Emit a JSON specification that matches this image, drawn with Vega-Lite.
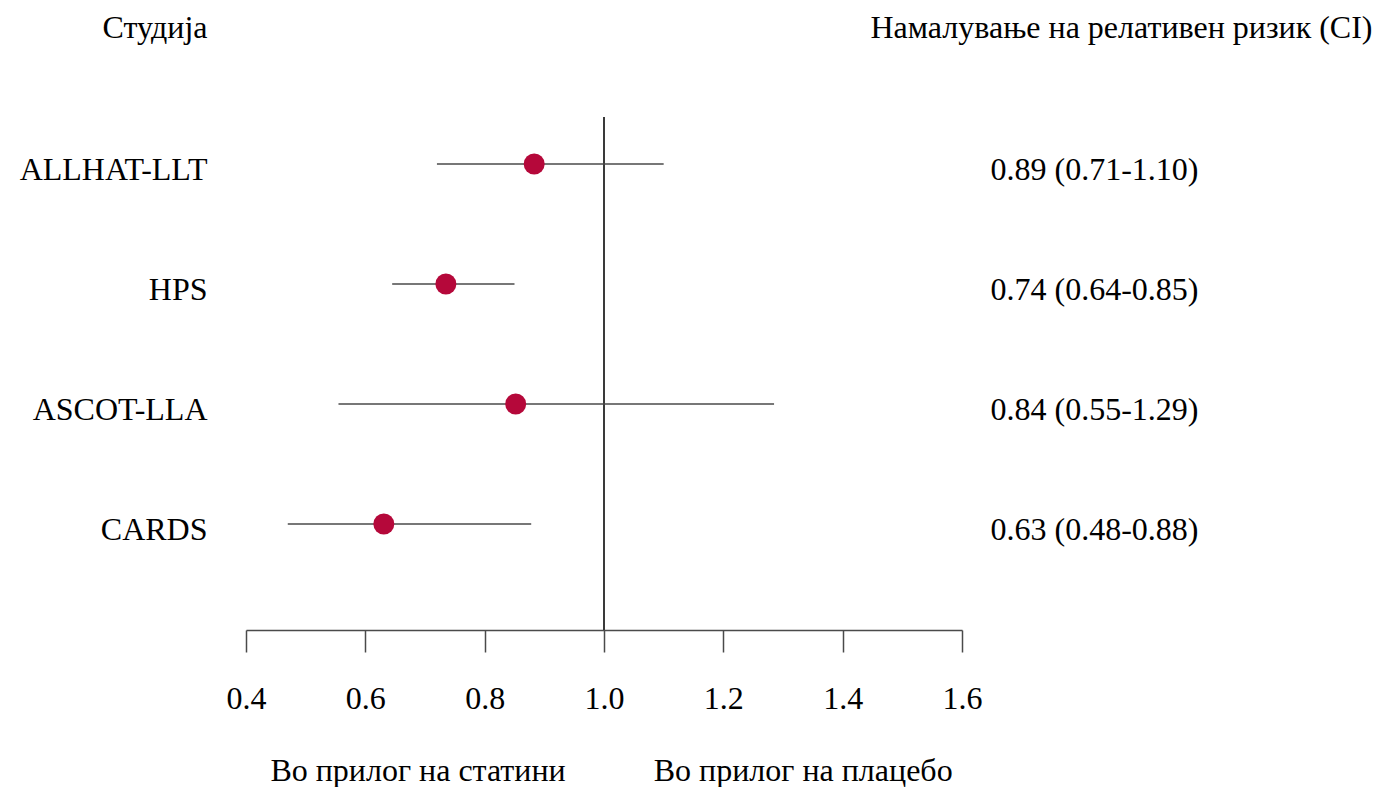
{
  "$schema": "https://vega.github.io/schema/vega-lite/v6.json",
  "width": 716,
  "height": 513,
  "autosize": {"type": "none"},
  "padding": {"left": 246, "top": 117, "right": 427, "bottom": 157},
  "background": "white",
  "config": {
    "view": {"stroke": null},
    "font": "Liberation Serif",
    "axis": {"grid": false, "labelFont": "Liberation Serif", "titleFont": "Liberation Serif", "labelColor": "black", "titleColor": "black", "titleFontWeight": "normal", "labelLimit": 0}
  },
  "data": {"values": [
    {"study": "ALLHAT-LLT", "est": 0.883, "lo": 0.72, "hi": 1.10, "ci": "0.89 (0.71-1.10)"},
    {"study": "HPS", "est": 0.735, "lo": 0.645, "hi": 0.85, "ci": "0.74 (0.64-0.85)"},
    {"study": "ASCOT-LLA", "est": 0.852, "lo": 0.555, "hi": 1.285, "ci": "0.84 (0.55-1.29)"},
    {"study": "CARDS", "est": 0.631, "lo": 0.47, "hi": 0.878, "ci": "0.63 (0.48-0.88)"}
  ]},
  "layer": [
    {
      "mark": {"type": "rule", "color": "#3a3a3a", "strokeWidth": 1.5},
      "encoding": {"x": {"datum": 1.0, "type": "quantitative",
              "scale": {"domain": [0.4, 1.6], "nice": false, "zero": false},
              "axis": {"values": [0.4, 0.6, 0.8, 1.0, 1.2, 1.4, 1.6], "format": ".1f", "labelFontSize": 32, "labelPadding": 31, "labelFlush": false, "tickSize": 22, "tickColor": "#4a4a4a", "domainColor": "#4a4a4a", "tickWidth": 1.5, "domainWidth": 1.5,
                       "title": "Во прилог на статини\u00a0\u00a0\u00a0\u00a0\u00a0\u00a0\u00a0\u00a0\u00a0\u00a0\u00a0Во прилог на плацебо", "titleFontSize": 32, "titleX": 365, "titleY": 150, "titleBaseline": "alphabetic", "titleAlign": "center"}}}
    },
    {
      "encoding": {
        "y": {"field": "study", "type": "nominal", "sort": null,
              "scale": {"type": "point", "range": [47, 407], "padding": 0},
              "axis": {"orient": "left", "title": "Студија", "titleAngle": 0, "titleAlign": "right", "titleBaseline": "middle", "titleX": -39, "titleY": -90, "titleFontSize": 32,
                       "labelFontSize": 32, "labelPadding": 39, "labelOffset": 5, "ticks": false, "domain": false}}
      },
      "layer": [
        {
          "mark": {"type": "rule", "color": "#4a4a4a", "strokeWidth": 1.5},
          "encoding": {
            "x": {"field": "lo", "type": "quantitative"},
            "x2": {"field": "hi"}
          }
        },
        {
          "mark": {"type": "point", "filled": true, "shape": "circle", "color": "#B5083A", "opacity": 1, "size": 440},
          "encoding": {
            "x": {"field": "est", "type": "quantitative"}
          }
        }
      ]
    },
    {
      "mark": {"type": "point", "opacity": 0},
      "encoding": {
        "y": {"field": "ci", "type": "nominal", "sort": null,
              "scale": {"type": "point", "range": [47, 407], "padding": 0},
              "axis": {"orient": "right", "title": "Намалување на релативен ризик (CI)", "titleAngle": 0, "titleAlign": "right", "titleBaseline": "middle", "titleX": 410, "titleY": -90, "titleFontSize": 32,
                       "labelFontSize": 32, "labelPadding": 28, "labelOffset": 5, "labelAlign": "left", "ticks": false, "domain": false}},
        "x": {"field": "est", "type": "quantitative"}
      }
    }
  ],
  "resolve": {"scale": {"y": "independent"}}
}
